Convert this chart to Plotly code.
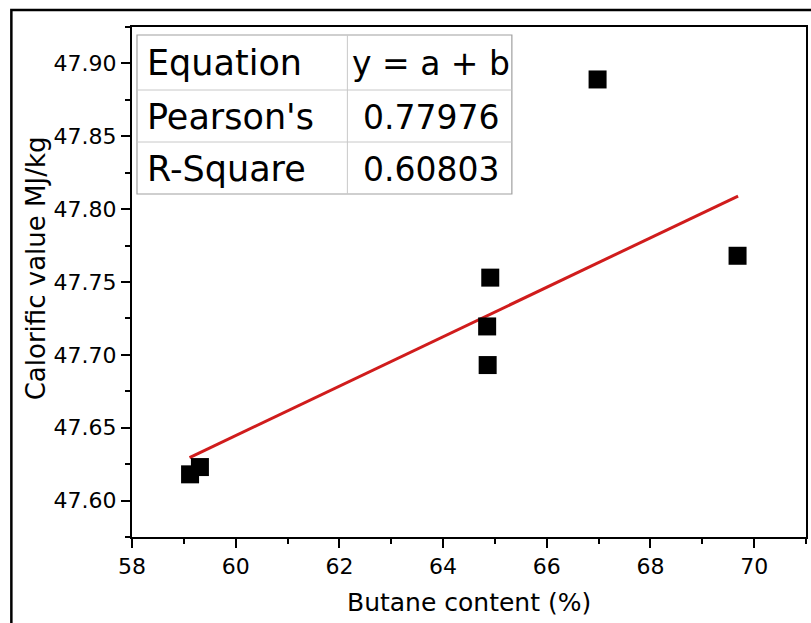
import plotly.graph_objects as go

# Data
butane = [59.12, 59.31, 64.91, 64.85, 64.86, 66.98, 69.68]
calorific = [47.618, 47.623, 47.753, 47.7195, 47.693, 47.889, 47.768]

fit_x = [59.11, 69.69]
fit_y = [47.6295, 47.809]

table_labels = ["Equation", "Pearson's", "R-Square"]
table_values = ["y = a + b", "0.77976", "0.60803"]

x_ticks = [58, 60, 62, 64, 66, 68, 70]
y_ticks = [47.60, 47.65, 47.70, 47.75, 47.80, 47.85, 47.90]

W, H = 811, 623
L, R, T, B = 132, 3, 27, 86
PW, PH = W - L - R, H - T - B
FONT = "DejaVu Sans"


def px(x):
    return (x - L) / PW


def py(y):
    return (H - B - y) / PH


fig = go.Figure()
fig.add_trace(go.Scatter(x=fit_x, y=fit_y, mode="lines",
                         line=dict(color="#d01c1c", width=3), showlegend=False))
fig.add_trace(go.Scatter(x=butane, y=calorific, mode="markers",
                         marker=dict(symbol="square", size=18, color="black", line=dict(width=0)),
                         showlegend=False))

shapes = []
# outer frame
shapes.append(dict(type="rect", xref="paper", yref="paper",
                   x0=px(11), x1=px(900), y0=py(10), y1=py(700),
                   line=dict(color="black", width=2.5), layer="below"))
# table
tx0, tx1, tmid = 137, 513, 348
rows = [35, 90, 142, 194]
shapes.append(dict(type="rect", xref="paper", yref="paper",
                   x0=px(tx0), x1=px(tx1), y0=py(rows[0]), y1=py(rows[-1]),
                   line=dict(color="#a0a0a0", width=1.2), fillcolor="white", layer="above"))
shapes.append(dict(type="line", xref="paper", yref="paper",
                   x0=px(tmid), x1=px(tmid), y0=py(rows[0]), y1=py(rows[-1]),
                   line=dict(color="#c8c8c8", width=1)))
for r in rows[1:-1]:
    shapes.append(dict(type="line", xref="paper", yref="paper",
                       x0=px(tx0), x1=px(tx1), y0=py(r), y1=py(r),
                       line=dict(color="#c8c8c8", width=1)))

annotations = []
for i, (lab, val) in enumerate(zip(table_labels, table_values)):
    yc = (rows[i] + rows[i + 1]) / 2 + 1
    annotations.append(dict(text=lab, xref="paper", yref="paper", x=px(145), y=py(yc),
                            xanchor="left", yanchor="middle", showarrow=False,
                            font=dict(family=FONT, size=35, color="black")))
    annotations.append(dict(text=val, xref="paper", yref="paper", x=px((tmid + tx1) / 2 + 1), y=py(yc),
                            xanchor="center", yanchor="middle", showarrow=False,
                            font=dict(family=FONT, size=33, color="black")))

annotations.append(dict(text="Butane content (%)", xref="paper", yref="paper",
                        x=px(470), y=py(602), xanchor="center", yanchor="middle",
                        showarrow=False, font=dict(family=FONT, size=25, color="black")))
annotations.append(dict(text="Calorific value MJ/kg", xref="paper", yref="paper",
                        x=px(36), y=py(268), xanchor="center", yanchor="middle", textangle=-90,
                        showarrow=False, font=dict(family=FONT, size=26, color="black")))

axis_common = dict(showgrid=False, zeroline=False, showline=True, linecolor="black",
                   linewidth=2, mirror=True, ticks="outside", tickcolor="black",
                   tickwidth=2, ticklen=9,
                   tickfont=dict(family=FONT, size=22, color="black"))

fig.update_layout(
    width=W, height=H,
    margin=dict(l=L, r=R, t=T, b=B, pad=0),
    paper_bgcolor="white", plot_bgcolor="white",
    shapes=shapes, annotations=annotations,
    xaxis=dict(range=[58, 71], tickvals=x_ticks,
               minor=dict(dtick=1, tick0=58, ticks="outside", ticklen=5, tickwidth=2, tickcolor="black"),
               **axis_common),
    yaxis=dict(range=[47.575, 47.925], tickvals=y_ticks, tickformat=".2f",
               minor=dict(dtick=0.025, tick0=47.575, ticks="outside", ticklen=5, tickwidth=2, tickcolor="black"),
               **axis_common),
)

fig.write_html("out.html")
